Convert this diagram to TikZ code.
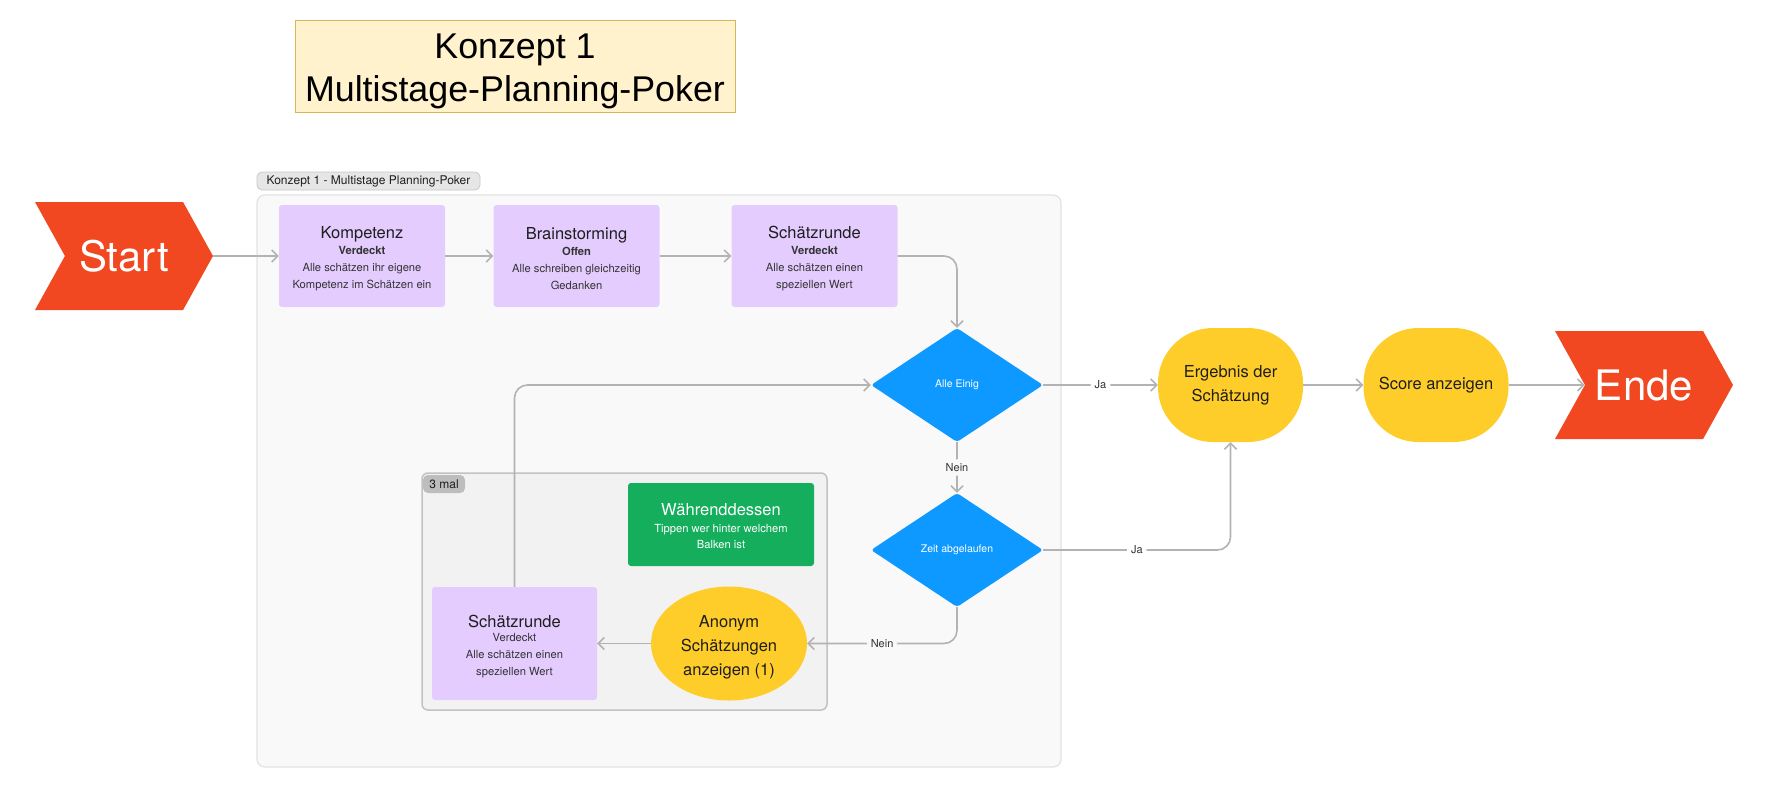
\documentclass[tikz,border=0pt]{standalone}
\usepackage{fontspec}
\setmainfont{TeX Gyre Heros}
\newfontfamily\arialf{Liberation Sans}
\usetikzlibrary{arrows.meta,shapes.geometric,shapes.symbols,calc}
\definecolor{startred}{HTML}{F24822}
\definecolor{lilac}{HTML}{E4CCFF}
\definecolor{diablue}{HTML}{0D99FF}
\definecolor{yel}{HTML}{FFCD29}
\definecolor{grn}{HTML}{14AE5C}
\definecolor{framebg}{HTML}{F9F9F9}
\definecolor{frameln}{HTML}{E2E2E2}
\definecolor{groupbg}{HTML}{F2F2F2}
\definecolor{groupln}{HTML}{C2C2C2}
\definecolor{conncol}{HTML}{B3B3B3}
\definecolor{txt}{HTML}{1E1E1E}
\definecolor{subtxt}{HTML}{333333}
\definecolor{notefill}{HTML}{FFF2CC}
\definecolor{noteline}{HTML}{D6B656}
\definecolor{tabfill}{HTML}{E6E6E6}
\definecolor{tabline}{HTML}{C8C8C8}
\definecolor{graytab}{HTML}{BDBDBD}
\newcommand\hdt[1]{{\fontsize{16.5}{17}\selectfont #1}}
\newcommand\lift[1]{\rule{0pt}{#1}}
\begin{document}
\begin{tikzpicture}[x=1pt,y=-1pt,
  conn/.style={draw=conncol, line width=1.6pt, rounded corners=13,
    -{Straight Barb[length=6pt,width=12pt]}},
  lbl/.style={fill=framebg, inner sep=4pt, text=subtxt, font=\fontsize{11}{12}\selectfont},
  lblw/.style={lbl, fill=white},
  pbox/.style={fill=lilac, rounded corners=3, minimum width=166, minimum height=102,
    align=center, text=subtxt, inner sep=0, font=\fontsize{11.2}{17}\selectfont},
  chev/.style={signal, signal from=west, signal to=east, signal pointer angle=122,
    fill=startred, text=white, minimum width=178, minimum height=108, inner sep=0,
    font=\fontsize{42}{42}\selectfont},
  dia/.style={diamond, fill=diablue, rounded corners=3, minimum width=172, minimum height=114,
    inner sep=0, text=white, font=\fontsize{10.5}{12}\selectfont},
  ybox/.style={fill=yel, rounded corners=55, minimum width=145, minimum height=114,
    inner sep=0, align=center, text=txt, font=\fontsize{16.5}{24}\selectfont}
]
\useasboundingbox (0,0) rectangle (1785,788);
\fill[white] (0,0) rectangle (1785,788);

% title note
\node[fill=notefill, draw=noteline, line width=0.8pt, minimum width=440, minimum height=92,
  align=center, inner sep=0, font=\arialf\fontsize{35.8}{43}\selectfont] (title) at (515,66)
  {\lift{36pt}Konzept 1\\Multistage-Planning-Poker};

% frame
\draw[fill=framebg, draw=frameln, line width=1.2pt, rounded corners=8] (257,195) rectangle (1061,767);
\node[fill=tabfill, draw=tabline, line width=0.8pt, rounded corners=5, minimum width=223,
  minimum height=18, inner sep=0, text=txt, font=\fontsize{12}{13}\selectfont] (ftab) at (368.5,181)
  {Konzept 1 - Multistage Planning-Poker};

% group
\draw[fill=groupbg, draw=groupln, line width=1.5pt, rounded corners=6] (422,473) rectangle (827,710);
\node[fill=graytab, rounded corners=5, minimum width=42, minimum height=18, inner sep=0,
  text=txt, font=\fontsize{12}{13}\selectfont] (gtab) at (444,484) {3 mal};

% nodes
\node[chev] (start) at (124,256) {Start};
\node[chev] (ende) at (1644,385) {Ende};

\node[pbox] (komp) at (362,256)
  {\lift{17pt}\hdt{\color{txt}Kompetenz}\\[-1.5pt]\textbf{Verdeckt}\\Alle schätzen ihr eigene\\Kompetenz im Schätzen ein};
\node[pbox] (brain) at (576.5,256)
  {\lift{17pt}\hdt{\color{txt}Brainstorming}\\[-1.5pt]\textbf{Offen}\\Alle schreiben gleichzeitig\\Gedanken};
\node[pbox] (sch1) at (814.5,256)
  {\lift{17pt}\hdt{\color{txt}Schätzrunde}\\[-1.5pt]\textbf{Verdeckt}\\Alle schätzen einen\\speziellen Wert};

\node[dia] (einig) at (957,385) {Alle Einig};
\node[dia] (zeit) at (957,550) {Zeit abgelaufen};

\node[ybox] (ergeb) at (1230.5,385) {Ergebnis der\\Schätzung};
\node[ybox] (score) at (1436,385) {Score anzeigen};

\node[ellipse, fill=yel, minimum width=156, minimum height=114, inner sep=0, align=center,
  text=txt, font=\fontsize{16.5}{24}\selectfont] (anon) at (729,643.5)
  {\lift{19pt}Anonym\\Schätzungen\\anzeigen (1)};

\node[fill=grn, rounded corners=3, minimum width=186, minimum height=83, inner sep=0,
  align=center, text=white, font=\fontsize{11.2}{16.5}\selectfont] (waehr) at (721,524.5)
  {\lift{16pt}\hdt{Währenddessen}\\[0pt]Tippen wer hinter welchem\\Balken ist};

\node[pbox, minimum width=165, minimum height=113] (sch2) at (514.5,643.5)
  {\lift{19pt}\hdt{\color{txt}Schätzrunde}\\[-3pt]Verdeckt\\Alle schätzen einen\\speziellen Wert};

% connectors
\draw[conn] (start.east) -- (komp.west);
\draw[conn] (komp.east) -- (brain.west);
\draw[conn] (brain.east) -- (sch1.west);
\draw[conn] (sch1.east) -| (einig.north);
\draw[conn] (einig.east) -- node[lblw] {Ja} (ergeb.west);
\draw[conn] (ergeb.east) -- (score.west);
\draw[conn] (score.east) -- (ende.west);
\draw[conn] (einig.south) -- node[lbl] {Nein} (zeit.north);
\draw[conn] (zeit.east) -| node[pos=0.25, lblw] {Ja} (ergeb.south);
\draw[conn] (zeit.south) |- node[pos=0.75, lbl] {Nein} (anon.east);
\draw[conn] (anon.west) -- (sch2.east);
\draw[conn] (sch2.north) |- (einig.west);
\end{tikzpicture}
\end{document}
